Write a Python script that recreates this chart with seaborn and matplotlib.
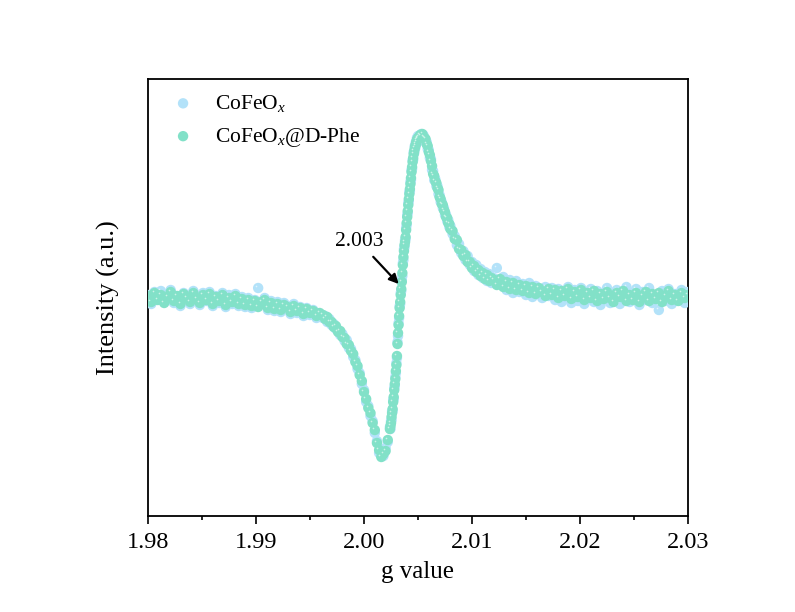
import matplotlib
matplotlib.use("Agg")
import matplotlib.pyplot as plt
import seaborn as sns
import pandas as pd
from matplotlib.ticker import MultipleLocator, FormatStrFormatter
from matplotlib.transforms import offset_copy

# ---------------- data ----------------
g_seg_a = [1.9800, 1.9803, 1.9806, 1.9809, 1.9812, 1.9815, 1.9818, 1.9821, 1.9824, 1.9827,
           1.9830, 1.9833, 1.9836, 1.9839, 1.9842, 1.9845, 1.9848, 1.9851, 1.9854, 1.9857,
           1.9860, 1.9863, 1.9866, 1.9869, 1.9872, 1.9875, 1.9878, 1.9881, 1.9884, 1.9887,
           1.9890, 1.9893, 1.9896, 1.9899, 1.9902, 1.9905, 1.9908, 1.9911, 1.9914, 1.9917,
           1.9920, 1.9923, 1.9926, 1.9929, 1.9932, 1.9935, 1.9938, 1.9941, 1.9944, 1.9947,
           1.9950, 1.9953, 1.9956, 1.9959]
g_seg_b = [1.9962, 1.9964, 1.9966, 1.9968, 1.9970, 1.9972, 1.9974, 1.9976, 1.9978, 1.9980,
           1.9982, 1.9984, 1.9986, 1.9988, 1.9990, 1.9992, 1.9994, 1.9996, 1.9998, 2.0000,
           2.0002, 2.0004, 2.0006, 2.0008, 2.0010, 2.0012, 2.0014, 2.0016, 2.0018, 2.0020,
           2.0022, 2.0024]
g_seg_c = [2.00245, 2.00250, 2.00255, 2.00260, 2.00265, 2.00270, 2.00275, 2.00280, 2.00285, 2.00290,
           2.00295, 2.00300, 2.00305, 2.00310, 2.00315, 2.00320, 2.00325, 2.00330, 2.00335, 2.00340,
           2.00345, 2.00350, 2.00355, 2.00360, 2.00365, 2.00370, 2.00375, 2.00380, 2.00385, 2.00390,
           2.00395, 2.00400, 2.00405, 2.00410, 2.00415, 2.00420, 2.00425, 2.00430, 2.00435, 2.00440,
           2.00445, 2.00450, 2.00455, 2.00460, 2.00465, 2.00470, 2.00475, 2.00480, 2.00485, 2.00490,
           2.00495, 2.00500]
g_seg_d = [2.0051, 2.0052, 2.0053, 2.0054, 2.0055, 2.0056, 2.0057, 2.0058, 2.0059, 2.0060,
           2.0061, 2.0062, 2.0063, 2.0064, 2.0065, 2.0066, 2.0067, 2.0068, 2.0069, 2.0070,
           2.0071, 2.0072, 2.0073, 2.0074, 2.0075, 2.0076, 2.0077, 2.0078, 2.0079, 2.0080]
g_seg_e = [2.0082, 2.0084, 2.0086, 2.0088, 2.0090, 2.0092, 2.0094, 2.0096, 2.0098, 2.0100,
           2.0102, 2.0104, 2.0106, 2.0108, 2.0110, 2.0112, 2.0114, 2.0116, 2.0118]
g_seg_f = [2.0120, 2.0123, 2.0126, 2.0129, 2.0132, 2.0135, 2.0138, 2.0141, 2.0144, 2.0147,
           2.0150, 2.0153, 2.0156, 2.0159, 2.0162, 2.0165, 2.0168, 2.0171, 2.0174, 2.0177,
           2.0180, 2.0183, 2.0186, 2.0189, 2.0192, 2.0195, 2.0198, 2.0201, 2.0204, 2.0207,
           2.0210, 2.0213, 2.0216, 2.0219, 2.0222, 2.0225, 2.0228, 2.0231, 2.0234, 2.0237,
           2.0240, 2.0243, 2.0246, 2.0249, 2.0252, 2.0255, 2.0258, 2.0261, 2.0264, 2.0267,
           2.0270, 2.0273, 2.0276, 2.0279, 2.0282, 2.0285, 2.0288, 2.0291, 2.0294, 2.0297,
           2.0300]
g_value = g_seg_a + g_seg_b + g_seg_c + g_seg_d + g_seg_e + g_seg_f

# CoFeOx (light blue, drawn underneath)
cofeox = [
    3, -6, 6, -1, 7, -4, 2, 8, -5, 1,
    -8, 5, 2, -6, 7, 0, -7, 5, -3, 6,
    -8, 2, -5, 5, -9, 3, -6, 4, -8, 1,
    -9, 0, -10, -2, 10, -6, 0, -12, -3, -13,
    -4, -14, -5, -8, -16, -6, -15, -9, -18, -10,
    -17, -12, -20, -16,
    -20, -18, -24, -21, -27, -26, -31, -32, -37, -36,
    -43, -42, -50, -51, -59, -62, -71, -75, -86, -92,
    -104, -108, -118, -123, -135, -143, -155, -157, -158, -150,
    -144, -129,
    -131, -123, -122, -113, -113, -102, -101, -90, -88, -79,
    -75, -65, -60, -44, -38, -25, -20, -8, -6, 5,
    7, 18, 22, 35, 38, 49, 51, 58, 59, 70,
    73, 83, 85, 95, 97, 106, 107, 116, 118, 128,
    129, 138, 138, 146, 145, 152, 150, 156, 154, 160,
    157, 162,
    159, 160, 164, 161, 163, 157, 156, 156, 149, 148,
    140, 139, 128, 127, 118, 119, 112, 112, 104, 103,
    96, 96, 90, 90, 83, 83, 77, 78, 71, 72,
    64, 62, 53, 54, 45, 47, 38, 42, 33, 36,
    27, 33, 23, 29, 20, 26, 17, 24, 15,
    20, 30, 14, 21, 8, 18, 5, 17, 6, 14,
    3, 15, 1, 12, 8, 0, 11, 2, 10, -2,
    9, -4, 6, 11, -5, 8, -3, 10, -6, 3,
    9, -4, 7, -7, 4, 10, -5, 2, 8, -6,
    5, 11, -4, 1, 9, -7, 6, -2, 10, -5,
    3, -12, 7, -3, 9, -6, 4, -2, 8, -5,
    6,
]

# CoFeOx@D-Phe (teal, drawn on top)
cofeox_dphe = [
    2, -4, 5, -2, 3, -5, 1, 6, -3, 2,
    -6, 4, 0, -4, 5, -1, -5, 3, -2, 4,
    -6, 1, -3, 3, -7, 0, -4, 2, -6, -1,
    -7, -2, -8, -3, -9, -4, -2, -10, -5, -11,
    -6, -12, -7, -9, -14, -8, -13, -10, -16, -11,
    -15, -13, -18, -15,
    -17, -21, -19, -24, -24, -29, -28, -34, -33, -39,
    -40, -46, -47, -53, -56, -64, -68, -77, -83, -94,
    -101, -110, -115, -125, -132, -145, -152, -159, -156, -153,
    -142, -131,
    -128, -125, -119, -115, -111, -104, -99, -92, -86, -81,
    -73, -67, -58, -46, -35, -27, -18, -10, -4, 3,
    9, 16, 25, 33, 41, 47, 53, 56, 61, 68,
    75, 81, 87, 93, 99, 104, 109, 114, 120, 126,
    131, 136, 140, 144, 147, 150, 152, 154, 156, 158,
    159, 160,
    161, 163, 162, 164, 161, 160, 159, 154, 152, 146,
    143, 137, 132, 124, 122, 117, 115, 110, 108, 101,
    99, 94, 93, 88, 86, 81, 80, 75, 74, 69,
    67, 59, 58, 49, 48, 42, 43, 36, 36, 30,
    32, 26, 28, 22, 25, 19, 23, 17, 20,
    18, 13, 19, 11, 16, 9, 15, 8, 13, 7,
    12, 5, 11, 4, 10, 6, 2, 9, 3, 8,
    0, 7, 2, 9, -1, 6, 1, 8, -2, 5,
    0, 7, -3, 4, -1, 6, 0, -4, 5, 1,
    7, -3, 3, -2, 5, -4, 2, 6, -3, 4,
    -1, 5, -4, 2, 7, -2, 3, -3, 5, 0,
    3,
]

series_names = ["CoFeO$_{x}$", "CoFeO$_{x}$@D-Phe"]
series_colors = ["#b3e2f9", "#82e1c8"]
x_ticks = [1.98, 1.99, 2.00, 2.01, 2.02, 2.03]
peak_label = "2.003"
peak_g = 2.0033
peak_i = 13

# ---------------- styling ----------------
sns.set_theme(style="ticks")
plt.rcParams["font.family"] = ["Liberation Serif", "DejaVu Serif"]
plt.rcParams["mathtext.fontset"] = "custom"
plt.rcParams["mathtext.rm"] = "Liberation Serif"
plt.rcParams["mathtext.it"] = "Liberation Serif:italic"

n = len(g_value)
df = pd.DataFrame({
    "g": g_value + g_value,
    "intensity": cofeox + cofeox_dphe,
    "sample": [series_names[0]] * n + [series_names[1]] * n,
})

fig = plt.figure(figsize=(7.95, 6.12), dpi=100)
ax = fig.add_axes([148 / 795, 96 / 612, 540 / 795, 437 / 612])

hl_tr = offset_copy(ax.transData, fig=fig, x=-1.8, y=1.8, units="dots")
for name, color in zip(series_names, series_colors):
    sub = df[df["sample"] == name]
    sns.scatterplot(data=sub, x="g", y="intensity", color=color, s=56,
                    edgecolor="none", linewidth=0, ax=ax, label=name, zorder=3)
    ax.scatter(sub["g"], sub["intensity"], s=1.4, color="white", alpha=0.6,
               linewidths=0, transform=hl_tr, zorder=3)

ax.set_xlim(x_ticks[0], x_ticks[-1])
ax.set_ylim(-218, 219)
ax.set_xticks(x_ticks)
ax.xaxis.set_major_formatter(FormatStrFormatter("%.2f"))
ax.xaxis.set_minor_locator(MultipleLocator(0.005))
ax.set_yticks([])
ax.tick_params(axis="x", which="major", direction="out", length=5.5, width=1.2,
               labelsize=17.5, pad=6, color="black", labelcolor="black")
ax.tick_params(axis="x", which="minor", direction="out", length=3, width=1.2, color="black")
ax.tick_params(axis="y", left=False, right=False)
for sp in ax.spines.values():
    sp.set_linewidth(1.3)
    sp.set_color("black")

ax.set_xlabel("g value", fontsize=18, labelpad=6, color="black")
ax.set_ylabel("Intensity (a.u.)", fontsize=19, labelpad=20, color="black")

ax.annotate(peak_label, xy=(peak_g, peak_i), xytext=(1.99957, 56),
            fontsize=15.5, ha="center", va="center", color="black",
            arrowprops=dict(arrowstyle="-|>", color="black", lw=1.6,
                            mutation_scale=14, shrinkA=2, shrinkB=1))

leg = ax.legend(loc="upper left", bbox_to_anchor=(0.045, 0.968), frameon=False,
                fontsize=15.5, handlelength=1.0, handletextpad=1.0,
                labelspacing=0.55, borderpad=0, borderaxespad=0, markerscale=1.0)
for t in leg.get_texts():
    t.set_color("black")

fig.savefig("out.png", dpi=100)
